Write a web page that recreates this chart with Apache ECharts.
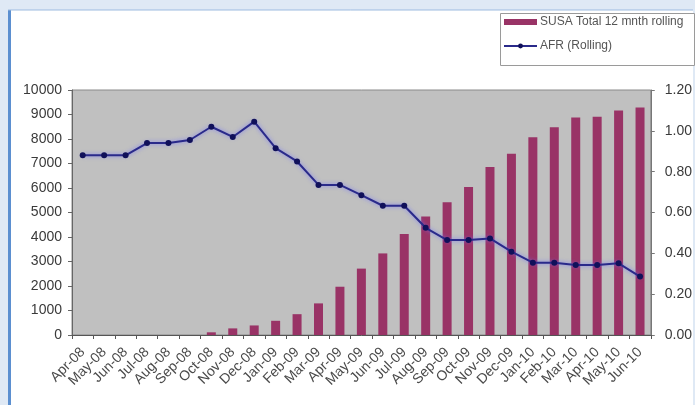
<!DOCTYPE html>
<html>
<head>
<meta charset="utf-8">
<script src="https://cdn.jsdelivr.net/npm/echarts@6/dist/echarts.min.js"></script>
<style>
html,body{margin:0;padding:0;background:#dfe9f5;}
#chart{width:695px;height:405px;}
</style>
</head>
<body>
<div id="chart"></div>
<script>
var categories = ["Apr-08","May-08","Jun-08","Jul-08","Aug-08","Sep-08","Oct-08","Nov-08","Dec-08",
  "Jan-09","Feb-09","Mar-09","Apr-09","May-09","Jun-09","Jul-09","Aug-09","Sep-09","Oct-09","Nov-09","Dec-09",
  "Jan-10","Feb-10","Mar-10","Apr-10","May-10","Jun-10"];
var susaTotal = [0,0,0,0,0,0,110,270,390,580,850,1290,1970,2710,3330,4120,4840,5420,6040,6860,7400,
  8070,8480,8880,8910,9160,9290];
var afrRolling = [0.88,0.88,0.88,0.94,0.94,0.955,1.02,0.97,1.045,0.915,0.85,0.735,0.735,0.685,0.633,0.633,
  0.525,0.465,0.465,0.473,0.408,0.354,0.354,0.343,0.343,0.351,0.286];
var leftTicks = {min:0, max:10000, interval:1000};
var rightTicks = {min:0, max:1.2, interval:0.2};
var seriesNames = ["SUSA Total 12 mnth rolling","AFR (Rolling)"];

var chart = echarts.init(document.getElementById('chart'), null, {renderer:'canvas'});
var fam = 'Liberation Sans, Arial, sans-serif';
chart.setOption({
  backgroundColor:'#dfe9f5',
  animation:false,
  graphic:[
    {type:'rect', z:-10, shape:{x:9,y:10,width:684,height:400}, style:{fill:'#ffffff'}},
    {type:'rect', z:-9, shape:{x:8,y:10,width:3,height:400}, style:{fill:'#5b8fd0'}},
    {type:'line', z:-9, shape:{x1:8,y1:10,x2:693,y2:10}, style:{stroke:'#9dbbe0',lineWidth:1}},
    {type:'rect', z:-8, shape:{x:500.5,y:13.5,width:194,height:52}, style:{fill:'#ffffff',stroke:'#9a9a9a',lineWidth:1}}
  ],
  legend:{
    orient:'vertical', left:503, top:16, itemGap:12, padding:0,
    itemWidth:33, itemHeight:6,
    textStyle:{fontFamily:fam, fontSize:12, color:'#555', padding:[0,0,0,-2]},
    data:[{name:seriesNames[0], icon:'rect'},{name:seriesNames[1]}]
  },
  grid:{left:72, right:42, top:90, bottom:70, show:true, backgroundColor:'#c0c0c0', borderColor:'#8a8a8a', borderWidth:1},
  xAxis:{
    type:'category', data:categories, boundaryGap:true,
    axisLine:{lineStyle:{color:'#555',width:1}},
    axisTick:{show:true, length:4, lineStyle:{color:'#555'}},
    axisLabel:{rotate:45, interval:0, margin:15, fontSize:14, fontFamily:fam, color:'#4a4a4a'}
  },
  yAxis:[
    {type:'value', min:leftTicks.min, max:leftTicks.max, interval:leftTicks.interval, position:'left',
     splitLine:{show:false},
     axisLine:{show:true, lineStyle:{color:'#666'}},
     axisTick:{show:true, length:4, lineStyle:{color:'#666'}},
     axisLabel:{margin:10, fontSize:14, fontFamily:fam, color:'#3a3a3a', formatter:function(v){return String(v);}}},
    {type:'value', min:rightTicks.min, max:rightTicks.max, interval:rightTicks.interval, position:'right',
     splitLine:{show:false},
     axisLine:{show:true, lineStyle:{color:'#777'}},
     axisTick:{show:true, length:4, lineStyle:{color:'#777'}},
     axisLabel:{margin:14, fontSize:14, fontFamily:fam, color:'#3a3a3a', formatter:function(v){return v.toFixed(2);}}}
  ],
  series:[
    {name:seriesNames[0], type:'bar', yAxisIndex:0, data:susaTotal, barWidth:9,
     itemStyle:{color:'#993366', borderWidth:0}, z:2},
    {name:seriesNames[1], type:'line', yAxisIndex:1, data:afrRolling,
     symbol:'circle', symbolSize:6,
     lineStyle:{color:'#2a2a8a', width:2, shadowColor:'rgba(110,110,255,0.8)', shadowBlur:4},
     itemStyle:{color:'#10105a'}, z:5}
  ]
});
</script>
</body>
</html>
